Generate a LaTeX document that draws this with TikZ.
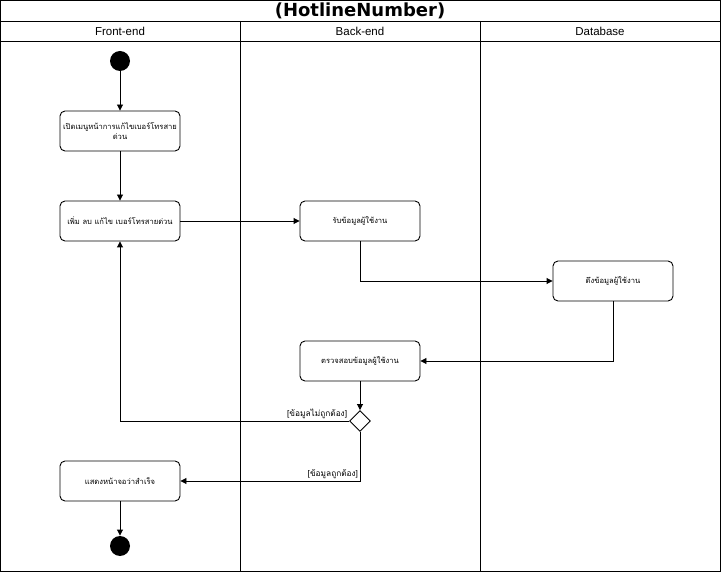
\documentclass[tikz,border=0pt]{standalone}
\usepackage{fontspec}
\setmainfont{Liberation Sans}
\newfontfamily\titlefont{DejaVu Sans}
\newfontfamily\thaifont[Script=Thai]{Loma}
\usetikzlibrary{arrows.meta,shapes.geometric}

\begin{document}
\begin{tikzpicture}
         [x=1pt,y=-1pt,line width=0.9pt,
          act/.style={draw,rounded corners=5pt,minimum width=120pt,minimum height=40pt,
                      align=center,inner sep=1pt,font=\thaifont\fontsize{7.6}{10}\selectfont},
          dot/.style={circle,fill,minimum size=20pt,inner sep=0pt},
          guard/.style={inner sep=1.5pt,font=\thaifont\fontsize{8.3}{10}\selectfont},
          lane/.style={font=\fontsize{11.5}{13}\selectfont},
          flow/.style={-{Triangle[length=6pt,width=6pt]}}]
         \useasboundingbox (0,0) rectangle (721,572);
         % lanes
         \draw (0.5,0.5) rectangle (720.5,571.5);
         \draw (0.5,21) -- (720.5,21);
         \draw (0.5,41) -- (720.5,41);
         \draw (240.5,21) -- (240.5,571.5);
         \draw (480.5,21) -- (480.5,571.5);
         \node[font=\titlefont\bfseries\fontsize{18}{20}\selectfont] (title) at (360,11) {(HotlineNumber)};
         \node[lane] (lfront) at (120,31) {Front-end};
         \node[lane] (lback) at (360,31) {Back-end};
         \node[lane] (ldb) at (600,31) {Database};
         % activities
         \node[dot] (start) at (120,61) {};
         \node[act] (open) at (120,131) {เปิดเมนูหน้าการแก้ไขเบอร์โทรสาย\\ด่วน};
         \node[act] (edit) at (120,221) {เพิ่ม ลบ แก้ไข เบอร์โทรสายด่วน};
         \node[act] (recv) at (360,221) {รับข้อมูลผู้ใช้งาน};
         \node[act] (fetch) at (613,281) {ดึงข้อมูลผู้ใช้งาน};
         \node[act] (check) at (360,361) {ตรวจสอบข้อมูลผู้ใช้งาน};
         \node[diamond,draw,fill=white,minimum size=21pt,inner sep=0pt] (dec) at (360,421) {};
         \node[act] (done) at (120,481) {แสดงหน้าจอว่าสำเร็จ};
         \node[dot] (stop) at (120,546) {};
         % flows
         \foreach \from/\to in {start/open, open/edit, edit/recv, check/dec, done/stop}
            \draw[flow] (\from) -- (\to);
         \draw[flow] (recv.south) |- (fetch.west);
         \draw[flow] (fetch.south) |- (check.east);
         \draw[flow] (dec.west) -| node[guard,pos=0,anchor=south east] (gno) {[ข้อมูลไม่ถูกต้อง]} (edit.south);
         \draw[flow] (dec.south) |- node[guard,pos=0.5,anchor=south east] (gyes) {[ข้อมูลถูกต้อง]} (done.east);
\end{tikzpicture}
\end{document}
